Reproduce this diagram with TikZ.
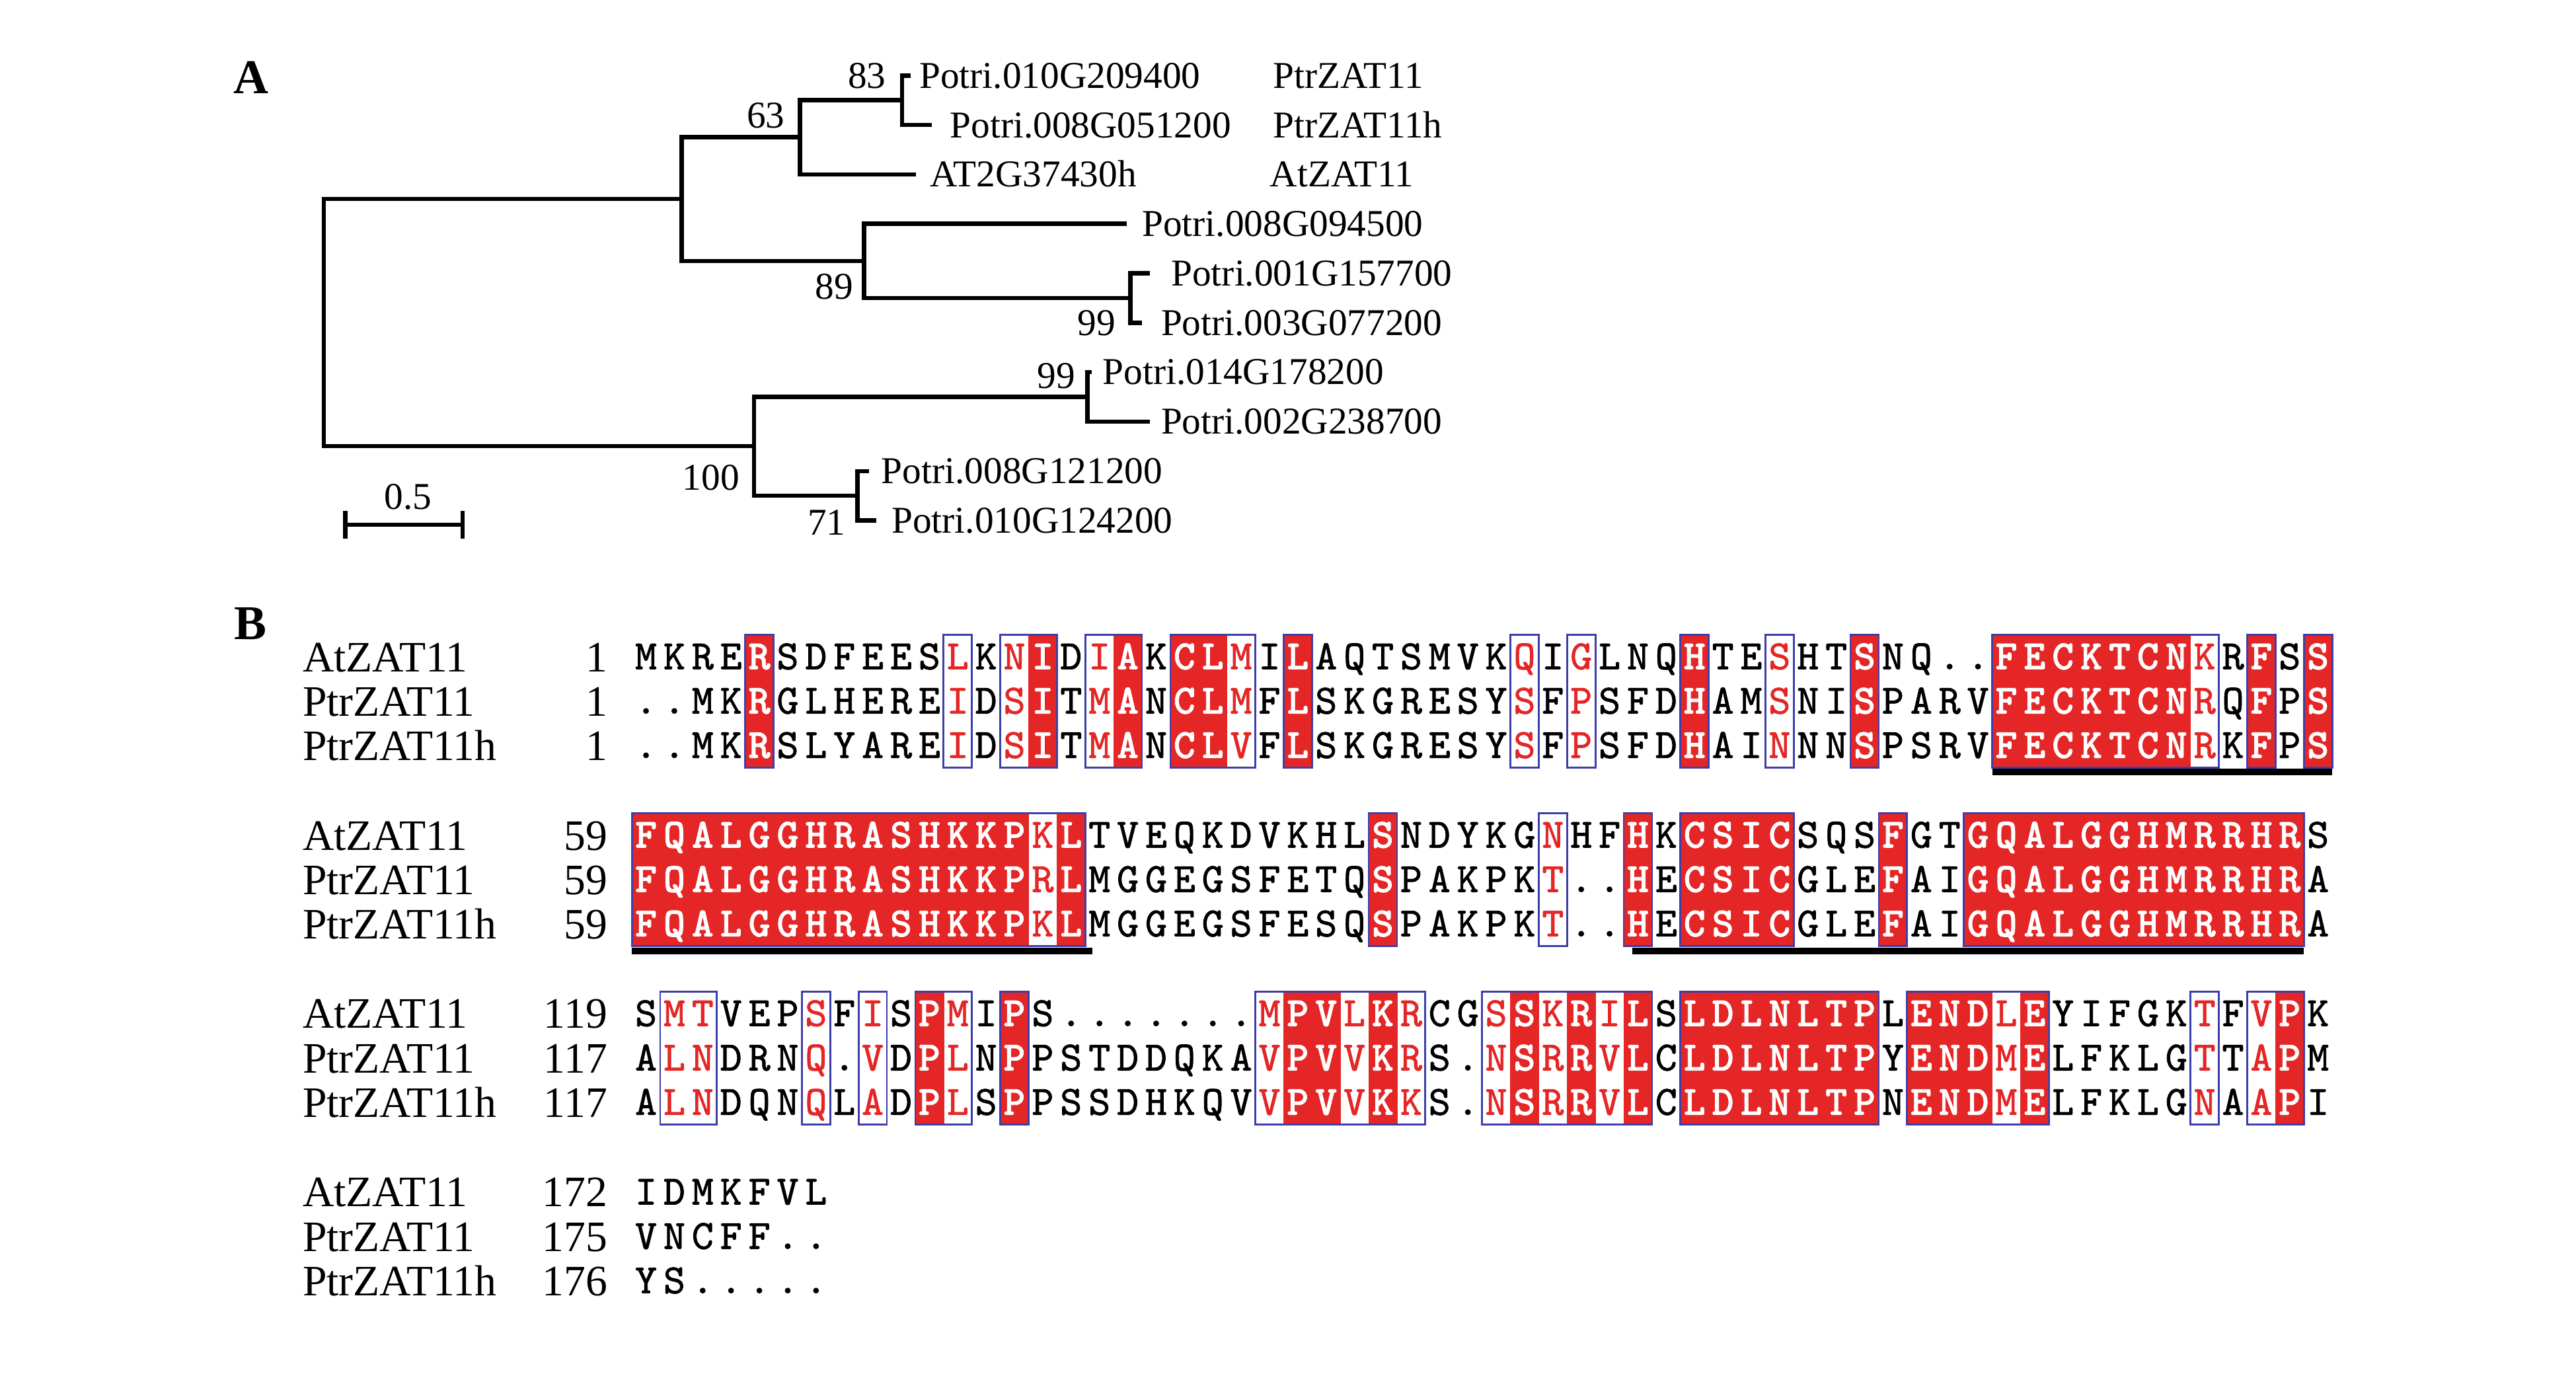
\documentclass[tikz,border=0pt]{standalone}
\usepackage{fontspec}
\setmainfont{Liberation Serif}
\newfontfamily\resfontn[FakeBold=1.3]{lmmono10-regular.otf}
\newfontfamily\resfontb[FakeBold=1.2]{lmmonolt10-bold.otf}
\definecolor{espred}{RGB}{228,38,38}
\definecolor{espblue}{RGB}{62,62,170}
\newcommand\resfnt{\resfontn\fontsize{18}{20}\selectfont}
\newcommand\resfntb{\resfontb\fontsize{18}{20}\selectfont}
\tikzset{
  br/.style={line width=0.65mm},
  treelab/.style={font=\fontsize{16.4}{18}\selectfont, inner sep=0pt, anchor=base west},
  bslab/.style={font=\fontsize{16.4}{18}\selectfont, inner sep=0pt, anchor=base east},
  panel/.style={font=\bfseries\fontsize{21}{24}\selectfont, inner sep=0pt, anchor=base},
  seqname/.style={font=\fontsize{18.8}{21}\selectfont, inner sep=0pt, anchor=base west},
  seqnum/.style={font=\fontsize{18.8}{21}\selectfont, inner sep=0pt, anchor=base east},
  resn/.style={font=\resfnt, inner sep=0pt, anchor=base, text=black},
  resr/.style={font=\resfnt, inner sep=0pt, anchor=base, text=espred},
  resf/.style={font=\resfntb, inner sep=0pt, anchor=base, text=white},
  alnframe/.style={draw=espblue, line width=0.28mm},
  uline/.style={line width=1.0mm},
}
\newcommand\resputn[4]{\node[resn] (#4) at ({#1},{#2}) {#3};}
\newcommand\resputr[4]{\node[resr] (#4) at ({#1},{#2}) {#3};}
\newcommand\resputf[4]{\node[resf] (#4) at ({#1},{#2}) {#3};}
\newcommand\resfillf[2]{\fill[espred] ({384.6+(#1-1)*17.25},{#2-13.75}) rectangle ({384.6+#1*17.25+0.3},{#2+67.25});}
\newcommand\resfilln[2]{}
\newcommand\resfillr[2]{}
\newcommand\alnfrm[3]{\draw[alnframe] ({384.6+(#2-1)*17.25},{#1-13.75}) rectangle ({384.6+#3*17.25},{#1+67.25});}
\newcommand\alnul[3]{\draw[uline] ({384.6+(#2-1)*17.25},{#1}) -- ({384.6+#3*17.25},{#1});}
\ExplSyntaxOn
\cs_new_protected:Npn \aln_row:nnnn #1#2#3#4
  {
    \int_step_inline:nn { \str_count:n {#4} }
      {
        \use:c { resput \str_item:nn {#3} {##1} }
          { 384.6 + (##1 - 0.5) * 17.25 } {#2} { \str_item:nn {#4} {##1} } { #1 - ##1 }
      }
  }
\cs_new_protected:Npn \aln_fills:nn #1#2
  {
    \int_step_inline:nn { \str_count:n {#2} }
      { \use:c { resfill \str_item:nn {#2} {##1} } {##1} {#1} }
  }
\NewDocumentCommand \alnfills { m m } { \aln_fills:nn {#1} {#2} }
\NewDocumentCommand \alnrow { m m m m } { \aln_row:nnnn {#1} {#2} {#3} {#4} }
\ExplSyntaxOff
\begin{document}
\begin{tikzpicture}[x=0.25mm,y=-0.25mm]
\useasboundingbox (0,0) rectangle (1568,836);
% ---------------- Panel A: tree ----------------
\node[panel] (labA) at (153,57) {A};
\coordinate (root) at (197,196.3);
\coordinate (n1) at (415,121.1);
\coordinate (n63) at (487,83.5);
\coordinate (n83) at (549,61);
\coordinate (n89) at (526,158.8);
\coordinate (n99a) at (688,181.5);
\coordinate (n100) at (459,271.6);
\coordinate (n99b) at (662,241.5);
\coordinate (n71) at (522,301.7);
\coordinate (t1) at (554.5,46);
\coordinate (t2) at (567,76.1);
\coordinate (t3) at (557.5,106.1);
\coordinate (t4) at (686,136.2);
\coordinate (t5) at (700,166.4);
\coordinate (t6) at (695,196.5);
\coordinate (t7) at (664.5,226.5);
\coordinate (t8) at (700,256.6);
\coordinate (t9) at (529,286.7);
\coordinate (t10) at (533.5,316.8);
\draw[br] (root) |- (n1);
\draw[br] (root) |- (n100);
\draw[br] (n1) |- (n63);
\draw[br] (n1) |- (n89);
\draw[br] (n63) |- (n83);
\draw[br] (n63) |- (t3);
\draw[br] (n83) |- (t1);
\draw[br] (n83) |- (t2);
\draw[br] (n89) |- (t4);
\draw[br] (n89) |- (n99a);
\draw[br] (n99a) |- (t5);
\draw[br] (n99a) |- (t6);
\draw[br] (n100) |- (n99b);
\draw[br] (n100) |- (n71);
\draw[br] (n99b) |- (t7);
\draw[br] (n99b) |- (t8);
\draw[br] (n71) |- (t9);
\draw[br] (n71) |- (t10);
\node[treelab] (l1) at (559.4,53.6) {Potri.010G209400};
\node[treelab] (l2) at (578,83.7) {Potri.008G051200};
\node[treelab] (l3) at (566,113.7) {AT2G37430h};
\node[treelab] (l4) at (694.9,143.8) {Potri.008G094500};
\node[treelab] (l5) at (712.7,174) {Potri.001G157700};
\node[treelab] (l6) at (706.5,204.1) {Potri.003G077200};
\node[treelab] (l7) at (670.9,234.1) {Potri.014G178200};
\node[treelab] (l8) at (706.5,264.2) {Potri.002G238700};
\node[treelab] (l9) at (536.3,294.3) {Potri.008G121200};
\node[treelab] (l10) at (542.5,324.4) {Potri.010G124200};
\node[treelab] (g1) at (774.7,53.6) {PtrZAT11};
\node[treelab] (g2) at (774.7,83.7) {PtrZAT11h};
\node[treelab] (g3) at (772.8,113.7) {AtZAT11};
\node[bslab] (bs83) at (539.5,53.8) {83};
\node[bslab] (bs63) at (478,77.8) {63};
\node[bslab] (bs89) at (519.6,182.2) {89};
\node[bslab] (bs99a) at (679.4,204) {99};
\node[bslab] (bs99b) at (654.8,236.4) {99};
\node[bslab] (bs100) at (450.3,298.1) {100};
\node[bslab] (bs71) at (515,325.5) {71};
\coordinate (sb1) at (210.2,319.3);
\coordinate (sb2) at (281.5,319.3);
\draw[br] (sb1) -- (sb2);
\draw[br] ([yshift=-6]sb1) -- ([yshift=6]sb1);
\draw[br] ([yshift=-6]sb2) -- ([yshift=6]sb2);
\node[treelab, anchor=base] (sbl) at (248.5,310.1) {0.5};
% ---------------- Panel B: alignment ----------------
\node[panel] (labB) at (152.5,389) {B};
% block 1
\alnfills{400}{nnnnfnnnnnnrnrfnrfnffrnfnnnnnnnrnrnnnfnnrnnfnnnnfffffffrnfnf}
\alnfrm{400}{5}{5}\alnfrm{400}{12}{12}\alnfrm{400}{14}{15}\alnfrm{400}{17}{18}
\alnfrm{400}{20}{22}\alnfrm{400}{24}{24}\alnfrm{400}{32}{32}\alnfrm{400}{34}{34}
\alnfrm{400}{38}{38}\alnfrm{400}{41}{41}\alnfrm{400}{44}{44}\alnfrm{400}{49}{56}
\alnfrm{400}{58}{58}\alnfrm{400}{60}{60}
\alnrow{b1a}{407.3}{nnnnfnnnnnnrnrfnrfnffrnfnnnnnnnrnrnnnfnnrnnfnnnnfffffffrnfnf}{MKRERSDFEESLKNIDIAKCLMILAQTSMVKQIGLNQHTESHTSNQ..FECKTCNKRFSS}
\alnrow{b1b}{434.3}{nnnnfnnnnnnrnrfnrfnffrnfnnnnnnnrnrnnnfnnrnnfnnnnfffffffrnfnf}{..MKRGLHEREIDSITMANCLMFLSKGRESYSFPSFDHAMSNISPARVFECKTCNRQFPS}
\alnrow{b1c}{461.3}{nnnnfnnnnnnrnrfnrfnffrnfnnnnnnnrnrnnnfnnrnnfnnnnfffffffrnfnf}{..MKRSLYAREIDSITMANCLVFLSKGRESYSFPSFDHAINNNSPSRVFECKTCNRKFPS}
\alnul{470}{49}{60}
\node[seqname] (s1a) at (184,408.7) {AtZAT11};
\node[seqname] (s1b) at (184,435.7) {PtrZAT11};
\node[seqname] (s1c) at (184,462.7) {PtrZAT11h};
\node[seqnum] (p1a) at (370,408.7) {1};
\node[seqnum] (p1b) at (370,435.7) {1};
\node[seqnum] (p1c) at (370,462.7) {1};
% block 2
\alnfills{508.6}{ffffffffffffffrfnnnnnnnnnnfnnnnnrnnfnffffnnnfnnffffffffffffn}
\alnfrm{508.6}{1}{16}\alnfrm{508.6}{27}{27}\alnfrm{508.6}{33}{33}\alnfrm{508.6}{36}{36}
\alnfrm{508.6}{38}{41}\alnfrm{508.6}{45}{45}\alnfrm{508.6}{48}{59}
\alnrow{b2a}{515.9}{ffffffffffffffrfnnnnnnnnnnfnnnnnrnnfnffffnnnfnnffffffffffffn}{FQALGGHRASHKKPKLTVEQKDVKHLSNDYKGNHFHKCSICSQSFGTGQALGGHMRRHRS}
\alnrow{b2b}{542.9}{ffffffffffffffrfnnnnnnnnnnfnnnnnrnnfnffffnnnfnnffffffffffffn}{FQALGGHRASHKKPRLMGGEGSFETQSPAKPKT..HECSICGLEFAIGQALGGHMRRHRA}
\alnrow{b2c}{569.9}{ffffffffffffffrfnnnnnnnnnnfnnnnnrnnfnffffnnnfnnffffffffffffn}{FQALGGHRASHKKPKLMGGEGSFESQSPAKPKT..HECSICGLEFAIGQALGGHMRRHRA}
\alnul{579}{1}{16.25}
\alnul{579}{36.3}{59}
\node[seqname] (s2a) at (184,517.3) {AtZAT11};
\node[seqname] (s2b) at (184,544.3) {PtrZAT11};
\node[seqname] (s2c) at (184,571.3) {PtrZAT11h};
\node[seqnum] (p2a) at (370,517.3) {59};
\node[seqnum] (p2b) at (370,544.3) {59};
\node[seqnum] (p2c) at (370,571.3) {59};
% block 3
\alnfills{617.2}{nrrnnnrnrnfrnfnnnnnnnnrffrfrnnrfrfrfnfffffffnfffrfnnnnnrnrfn}
\alnfrm{617.2}{2}{3}\alnfrm{617.2}{7}{7}\alnfrm{617.2}{9}{9}\alnfrm{617.2}{11}{12}
\alnfrm{617.2}{14}{14}\alnfrm{617.2}{23}{28}\alnfrm{617.2}{31}{36}\alnfrm{617.2}{38}{44}
\alnfrm{617.2}{46}{50}\alnfrm{617.2}{56}{56}\alnfrm{617.2}{58}{59}
\alnrow{b3a}{624.5}{nrrnnnrnrnfrnfnnnnnnnnrffrfrnnrfrfrfnfffffffnfffrfnnnnnrnrfn}{SMTVEPSFISPMIPS.......MPVLKRCGSSKRILSLDLNLTPLENDLEYIFGKTFVPK}
\alnrow{b3b}{651.5}{nrrnnnrnrnfrnfnnnnnnnnrffrfrnnrfrfrfnfffffffnfffrfnnnnnrnrfn}{ALNDRNQ.VDPLNPPSTDDQKAVPVVKRS.NSRRVLCLDLNLTPYENDMELFKLGTTAPM}
\alnrow{b3c}{678.5}{nrrnnnrnrnfrnfnnnnnnnnrffrfrnnrfrfrfnfffffffnfffrfnnnnnrnrfn}{ALNDQNQLADPLSPPSSDHKQVVPVVKKS.NSRRVLCLDLNLTPNENDMELFKLGNAAPI}
\node[seqname] (s3a) at (184,625.9) {AtZAT11};
\node[seqname] (s3b) at (184,652.9) {PtrZAT11};
\node[seqname] (s3c) at (184,679.9) {PtrZAT11h};
\node[seqnum] (p3a) at (370,625.9) {119};
\node[seqnum] (p3b) at (370,652.9) {117};
\node[seqnum] (p3c) at (370,679.9) {117};
% block 4
\alnrow{b4a}{733.1}{nnnnnnn}{IDMKFVL}
\alnrow{b4b}{760.1}{nnnnnnn}{VNCFF..}
\alnrow{b4c}{787.1}{nnnnnnn}{YS.....}
\node[seqname] (s4a) at (184,734.5) {AtZAT11};
\node[seqname] (s4b) at (184,761.5) {PtrZAT11};
\node[seqname] (s4c) at (184,788.5) {PtrZAT11h};
\node[seqnum] (p4a) at (370,734.5) {172};
\node[seqnum] (p4b) at (370,761.5) {175};
\node[seqnum] (p4c) at (370,788.5) {176};
\end{tikzpicture}
\end{document}
